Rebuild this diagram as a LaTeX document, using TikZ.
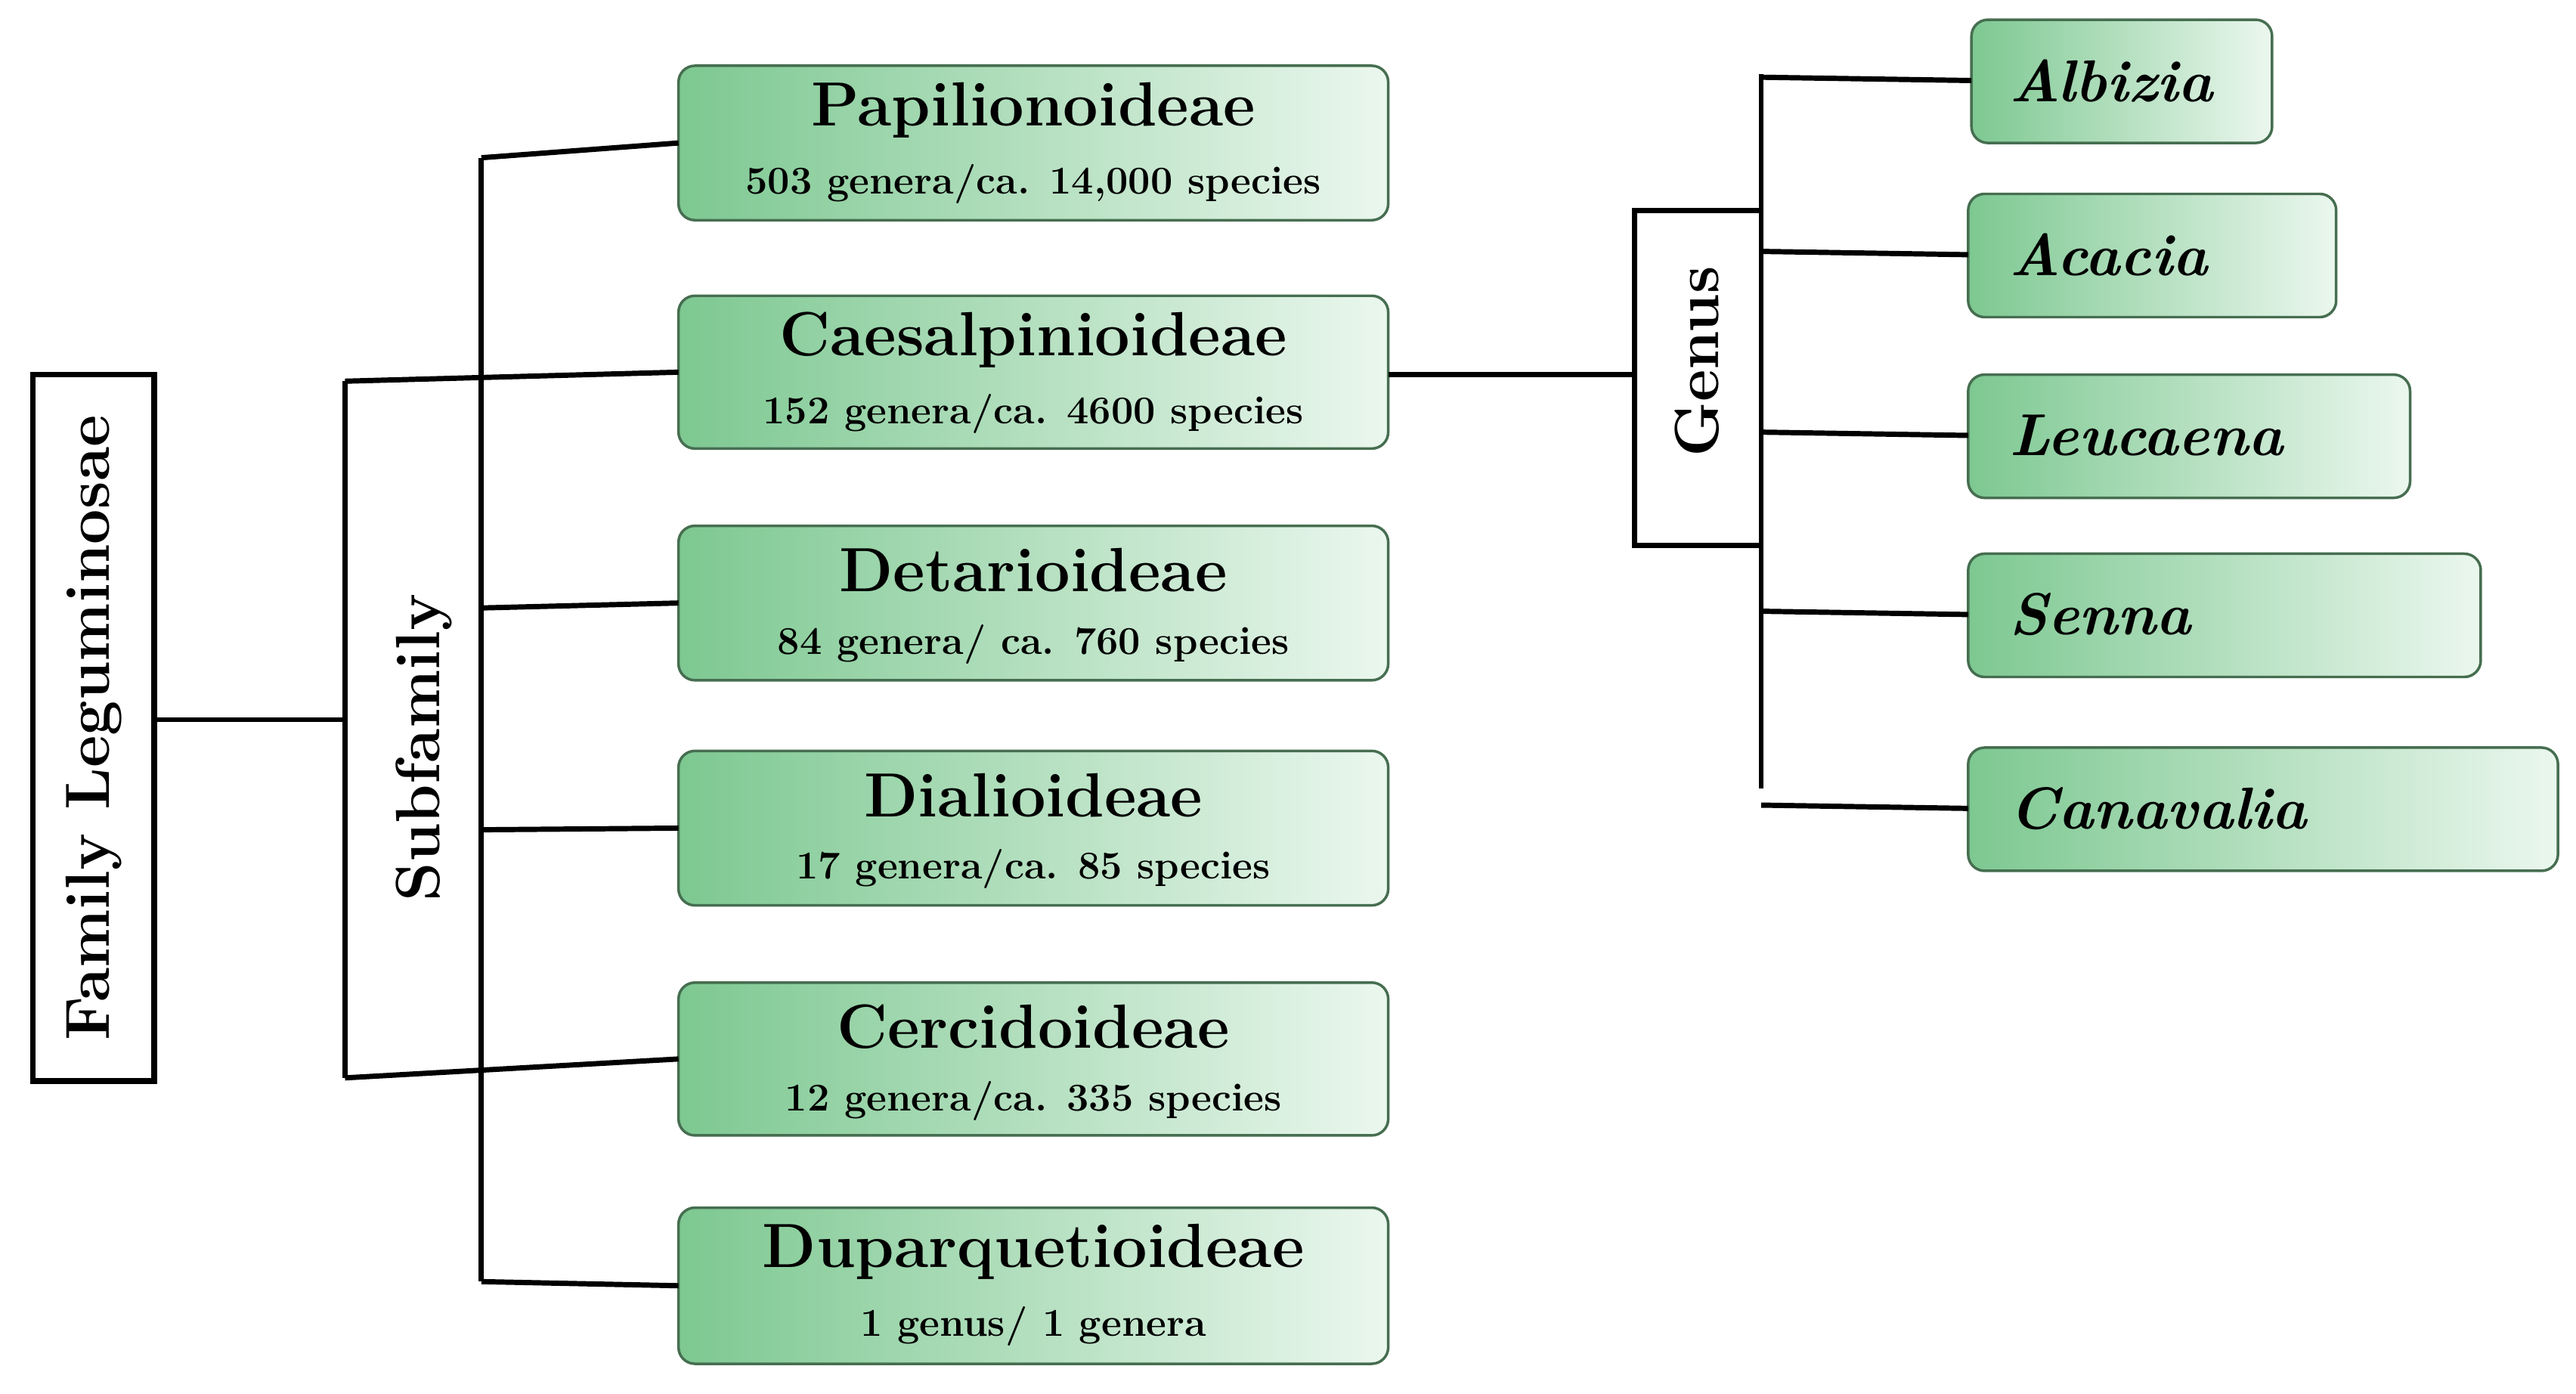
\documentclass[tikz,border=0pt]{standalone}
\begin{document}
\begin{tikzpicture}[x=0.5pt,y=-0.5pt,
  ln/.style={line width=1.6pt,black},
  sub/.style={draw={rgb,255:red,70;green,110;blue,80},line width=0.8pt,rounded corners=5pt,
     left color={rgb,255:red,125;green,200;blue,145},right color={rgb,255:red,235;green,247;blue,238},
     shading angle=90},
  gen/.style={sub,anchor=north west,minimum height=37pt,text width=0pt,align=left},
  tt/.style={font=\fontsize{19}{21}\selectfont\bfseries},
  st/.style={font=\fontsize{12}{14}\selectfont\bfseries},
  gt/.style={font=\fontsize{18}{20}\selectfont\bfseries\itshape,anchor=west}]
\useasboundingbox (0,0) rectangle (1568,848);
% family box
\node[draw,line width=1.8pt,minimum width=37pt,minimum height=215pt,inner sep=0pt] (fam) at (57,443) {};
\node[rotate=90,font=\fontsize{19}{21}\selectfont\bfseries] at (fam) {Family Leguminosae};
\coordinate (a1) at (210,438);
\coordinate (a2) at (210,232);
\coordinate (a3) at (210,656);
\draw[ln] (fam.east|-a1) -- (a1);
\draw[ln] (a2) -- (a3);
\node[rotate=90,font=\fontsize{19}{21}\selectfont\bfseries] (subf) at (258,455) {Subfamily};
\coordinate (b1) at (293,96);
\coordinate (b2) at (293,780);
\draw[ln] (b1) -- (b2);
% subfamily boxes
\def\sbox#1#2#3#4#5{%
  \draw[sub] (413,#2) rectangle (845,#3);
  \coordinate (#1) at (413,{(#2+#3)/2});
  \node[tt] at (629,{#2+27}) {#4};
  \node[st] at (629,{#2+72}) {#5};}
\sbox{pap}{40}{134}{Papilionoideae}{503 genera/ca. 14,000 species}
\sbox{cae}{180}{273}{Caesalpinioideae}{152 genera/ca. 4600 species}
\sbox{det}{320}{414}{Detarioideae}{84 genera/ ca. 760 species}
\sbox{dia}{457}{551}{Dialioideae}{17 genera/ca. 85 species}
\sbox{cer}{598}{691}{Cercidoideae}{12 genera/ca. 335 species}
\sbox{dup}{735}{830}{Duparquetioideae}{1 genus/ 1 genera}
\draw[ln] (b1) -- (pap);
\draw[ln] (a2) -- (cae);
\draw[ln] (293,370) -- (det);
\draw[ln] (293,505) -- (dia);
\draw[ln] (a3) -- (cer);
\draw[ln] (b2) -- (dup);
% genus
\coordinate (caeE) at (845,228);
\draw[ln] (1072,128) -- (995,128) -- (995,332) -- (1072,332);
\coordinate (gl) at (995,228);
\draw[ln] (caeE) -- (gl);
\node[rotate=90,font=\fontsize{19}{21}\selectfont\bfseries] (genus) at (1033,220) {Genus};
\draw[ln] (1072,45) -- (1072,480);
\def\gbox#1#2#3#4#5{%
  \draw[sub] (#2,#3) rectangle (#4,{#3+75});
  \coordinate (#1) at (#2,{#3+37});
  \node[gt] at (1216,{#3+37}) {#5};
  \draw[ln] (1072,{#3+35}) -- (#1);}
\gbox{alb}{1200}{12}{1383}{Albizia}
\gbox{aca}{1198}{118}{1422}{Acacia}
\gbox{leu}{1198}{228}{1467}{Leucaena}
\gbox{sen}{1198}{337}{1510}{Senna}
\gbox{can}{1198}{455}{1557}{Canavalia}
\end{tikzpicture}
\end{document}
